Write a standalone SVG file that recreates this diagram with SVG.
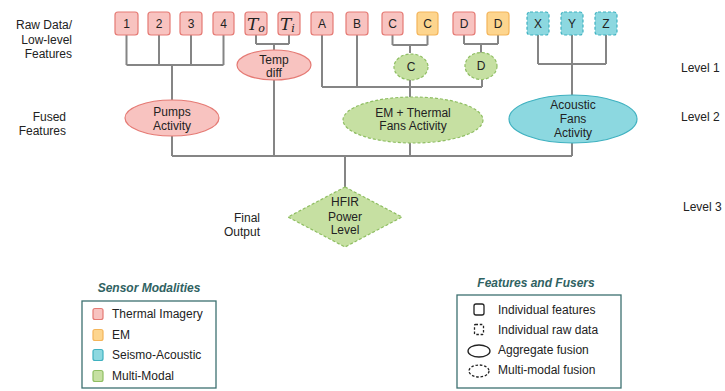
<svg xmlns="http://www.w3.org/2000/svg" width="725" height="391" viewBox="0 0 725 391">
<style>
text{font-family:"Liberation Sans",Arial,sans-serif;font-size:12px;fill:#222}
.c{text-anchor:middle}
.r{text-anchor:end}
.th{fill:#f8c3c0;stroke:#e57a74;stroke-width:1.2}
.em{fill:#fdd58e;stroke:#f4b55a;stroke-width:1.2}
.sa{fill:#8cd8e0;stroke:#3fb1c0;stroke-width:1.2}
.mm{fill:#c6e0a2;stroke:#8fbe62;stroke-width:1.2}
.dash{stroke-dasharray:3 2}
.ln{fill:none;stroke:#858585;stroke-width:2}
.math{font-family:"DejaVu Serif","Liberation Serif",serif;font-style:italic;font-size:17px}
.ttl{font-weight:bold;font-style:italic;fill:#2f6262}
.lb{fill:#fff;stroke:#3c7070;stroke-width:1.3}
.ic{fill:none;stroke:#222;stroke-width:1.3}
.icd{stroke-dasharray:2.5 1.8}
</style>
<g id="connectors">
<path class="ln" d="M126.5 35V65M159 35V65M191 35V65M223.5 35V65M126.5 65H223.5M172 65V100"/>
<path class="ln" d="M256 35V44M289 35V44M256 44H289M274 44V50"/>
<path class="ln" d="M392.5 35V45M427.5 35V45M392.5 45H427.5M410 45V53"/>
<path class="ln" d="M464 35V44M498 35V44M464 44H498M481 44V53"/>
<path class="ln" d="M322 35V87M357 35V87M322 87H482M410 80V97M482 80V87"/>
<path class="ln" d="M538 35V64M572 35V64M606 35V64M538 64H606M572 64V95"/>
<path class="ln" d="M172 136V156M274 80V156M410 143V156M572 143V156M172 156H572M345 156V187"/>
</g>
<g id="labels">
<text class="r" x="72" y="29">Raw Data/</text>
<text class="r" x="72" y="44">Low-level</text>
<text class="r" x="72" y="58">Features</text>
<text class="r" x="66" y="121">Fused</text>
<text class="r" x="66" y="135">Features</text>
<text class="r" x="260" y="222">Final</text>
<text class="r" x="260" y="236">Output</text>
<text x="681" y="72">Level 1</text>
<text x="681" y="121">Level 2</text>
<text x="683" y="211">Level 3</text>
</g>
<g id="n1"><rect class="th" x="115" y="12" width="23" height="23" rx="3"/><text class="c" x="126.5" y="28">1</text></g>
<g id="n2"><rect class="th" x="148" y="12" width="22" height="23" rx="3"/><text class="c" x="159" y="28">2</text></g>
<g id="n3"><rect class="th" x="180" y="12" width="22" height="23" rx="3"/><text class="c" x="191" y="28">3</text></g>
<g id="n4"><rect class="th" x="213" y="12" width="21" height="23" rx="3"/><text class="c" x="223.5" y="28">4</text></g>
<g id="nTo"><rect class="th" x="245" y="12" width="22" height="23" rx="3"/><text class="math" x="247" y="30">T<tspan font-size="11" dy="2">o</tspan></text></g>
<g id="nTi"><rect class="th" x="278" y="12" width="22" height="23" rx="3"/><text class="math" x="280" y="30">T<tspan font-size="11" dy="2">i</tspan></text></g>
<g id="nA"><rect class="th" x="311" y="12" width="22" height="23" rx="3"/><text class="c" x="322" y="28">A</text></g>
<g id="nB"><rect class="th" x="346" y="12" width="22" height="23" rx="3"/><text class="c" x="357" y="28">B</text></g>
<g id="nC1"><rect class="th" x="382" y="12" width="21" height="23" rx="3"/><text class="c" x="392.5" y="28">C</text></g>
<g id="nC2"><rect class="em" x="417" y="12" width="21" height="23" rx="3"/><text class="c" x="427.5" y="28">C</text></g>
<g id="nD1"><rect class="th" x="453" y="12" width="22" height="23" rx="3"/><text class="c" x="464" y="28">D</text></g>
<g id="nD2"><rect class="em" x="487" y="12" width="22" height="23" rx="3"/><text class="c" x="498" y="28">D</text></g>
<g id="nX"><rect class="sa dash" x="527" y="12" width="22" height="23" rx="3"/><text class="c" x="538" y="28">X</text></g>
<g id="nY"><rect class="sa dash" x="561" y="12" width="22" height="23" rx="3"/><text class="c" x="572" y="28">Y</text></g>
<g id="nZ"><rect class="sa dash" x="595" y="12" width="22" height="23" rx="3"/><text class="c" x="606" y="28">Z</text></g>
<g id="tempdiff"><ellipse class="th" cx="274" cy="65" rx="37" ry="15"/><text class="c" x="274" y="64">Temp</text><text class="c" x="274" y="77">diff</text></g>
<g id="fC"><ellipse class="mm dash" cx="411" cy="67" rx="17" ry="13"/><text class="c" x="411" y="71">C</text></g>
<g id="fD"><ellipse class="mm dash" cx="481" cy="66" rx="16" ry="13.5"/><text class="c" x="481" y="70">D</text></g>
<g id="pumps"><ellipse class="th" cx="172" cy="118" rx="47" ry="18"/><text class="c" x="172" y="116">Pumps</text><text class="c" x="172" y="130">Activity</text></g>
<g id="emthermal"><ellipse class="mm dash" cx="413" cy="120" rx="70" ry="23"/><text class="c" x="413" y="117">EM + Thermal</text><text class="c" x="413" y="130">Fans Activity</text></g>
<g id="acoustic"><ellipse class="sa" cx="573" cy="119" rx="64" ry="24"/><text class="c" x="573" y="109">Acoustic</text><text class="c" x="573" y="123">Fans</text><text class="c" x="573" y="137">Activity</text></g>
<g id="hfir"><path class="mm dash" d="M345 187L402 217L345 247L288 217Z"/><text class="c" x="345" y="206">HFIR</text><text class="c" x="345" y="221">Power</text><text class="c" x="345" y="234">Level</text></g>
<g id="legend-sensor">
<text class="ttl c" x="149" y="292">Sensor Modalities</text>
<rect class="lb" x="82" y="301" width="134" height="87"/>
<rect class="th" x="93" y="308.5" width="10" height="11" rx="2"/><text x="112" y="318">Thermal Imagery</text>
<rect class="em" x="93" y="329.5" width="10" height="11" rx="2"/><text x="112" y="339">EM</text>
<rect class="sa" x="93" y="349.5" width="10" height="11" rx="2"/><text x="112" y="359">Seismo-Acoustic</text>
<rect class="mm" x="93" y="370.5" width="10" height="11" rx="2"/><text x="112" y="380">Multi-Modal</text>
</g>
<g id="legend-fusers">
<text class="ttl c" x="536" y="287">Features and Fusers</text>
<rect class="lb" x="457" y="295" width="164" height="93"/>
<rect class="ic" x="474" y="304" width="10" height="11" rx="2"/><text x="498" y="314">Individual features</text>
<rect class="ic icd" x="474.5" y="324.5" width="9" height="10" rx="1"/><text x="498" y="334">Individual raw data</text>
<ellipse class="ic" cx="479" cy="351" rx="11" ry="6"/><text x="498" y="354">Aggregate fusion</text>
<ellipse class="ic icd" cx="479" cy="371" rx="10" ry="6"/><text x="498" y="374">Multi-modal fusion</text>
</g>
</svg>
